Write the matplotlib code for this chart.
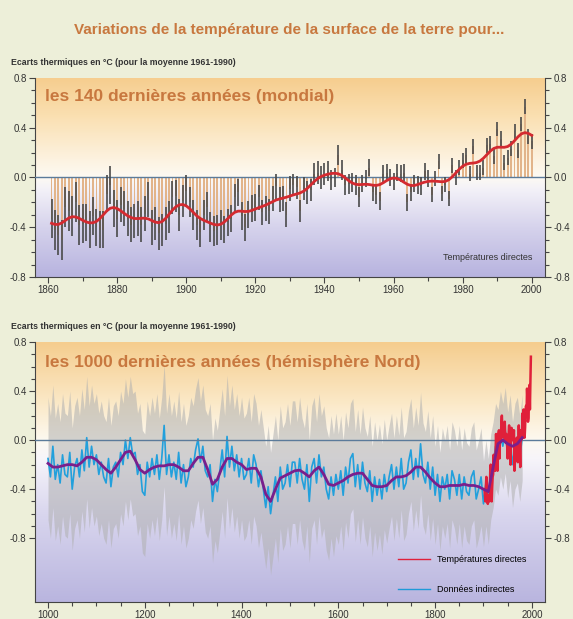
import numpy as np
import matplotlib
matplotlib.use("Agg")
import matplotlib.pyplot as plt
from matplotlib.colors import LinearSegmentedColormap
from matplotlib.lines import Line2D

plt.rcParams['font.family'] = ['Liberation Sans', 'DejaVu Sans']

# --- data: global annual anomalies 1861-2000 (°C, vs 1961-1990)
years_glob = np.arange(1861, 2001)
temp_glob = [
    -0.33, -0.42, -0.46, -0.50, -0.24, -0.27, -0.31, -0.20, -0.38, -0.37,
    -0.36, -0.42, -0.31, -0.40, -0.42, -0.42, -0.13, -0.06, -0.25, -0.33,
    -0.22, -0.25, -0.33, -0.38, -0.35, -0.33, -0.38, -0.29, -0.18, -0.40,
    -0.37, -0.45, -0.42, -0.37, -0.32, -0.16, -0.15, -0.30, -0.19, -0.11,
    -0.20, -0.30, -0.38, -0.44, -0.30, -0.24, -0.40, -0.43, -0.42, -0.38,
    -0.42, -0.36, -0.33, -0.16, -0.12, -0.31, -0.40, -0.30, -0.25, -0.24,
    -0.16, -0.28, -0.25, -0.27, -0.17, -0.07, -0.18, -0.17, -0.30, -0.09,
    -0.06, -0.08, -0.27, -0.09, -0.12, -0.10, 0.03, 0.04, 0.00, 0.03,
    0.05, -0.02, 0.00, 0.18, 0.06, -0.06, -0.05, -0.04, -0.06, -0.16,
    -0.05, -0.01, 0.08, -0.12, -0.14, -0.19, 0.03, 0.04, 0.00, -0.03,
    0.04, 0.03, 0.04, -0.20, -0.12, -0.05, -0.06, -0.07, 0.05, -0.01,
    -0.14, -0.01, 0.13, -0.13, -0.06, -0.17, 0.10, 0.00, 0.08, 0.14,
    0.18, 0.03, 0.25, 0.04, 0.04, 0.08, 0.26, 0.27, 0.17, 0.39,
    0.31, 0.12, 0.16, 0.23, 0.37, 0.22, 0.43, 0.57, 0.33, 0.29,
]
# error half-width per decade (1861-1870 ... 1991-2000)
err_decade = [0.16, 0.15, 0.14, 0.13, 0.12, 0.11, 0.10, 0.09, 0.08, 0.07, 0.07, 0.06, 0.06, 0.06]

# --- data: northern hemisphere reconstruction, 5-year steps 1000-1980
years_nh = np.arange(1000, 1981, 5)
proxy_nh = [
    -0.15, -0.30, -0.05, -0.32, -0.20, -0.35, -0.12, -0.28, -0.30, -0.10,
    -0.40, -0.22, -0.15, -0.30, -0.08, -0.25, 0.02, -0.22, -0.05, -0.20,
    -0.12, -0.28, -0.18, -0.30, -0.35, -0.15, -0.38, -0.22, -0.18, -0.30,
    -0.10, -0.20, 0.00, -0.15, 0.02, -0.12, -0.10, -0.28, -0.20, -0.42,
    -0.45, -0.18, -0.30, -0.15, -0.28, -0.12, -0.32, -0.15, 0.12, -0.28,
    -0.12, -0.30, -0.18, -0.32, -0.10, -0.35, -0.20, -0.38, -0.30, -0.15,
    -0.22, -0.08, 0.01, -0.18, -0.05, -0.25, -0.30, -0.20, -0.50, -0.32,
    -0.42, -0.25, -0.08, -0.30, 0.03, -0.22, -0.05, -0.25, -0.12, -0.30,
    -0.15, -0.32, -0.28, -0.15, -0.35, -0.12, -0.20, -0.38, -0.25, -0.40,
    -0.55, -0.38, -0.60, -0.45, -0.30, -0.50, -0.22, -0.40, -0.35, -0.20,
    -0.38, -0.18, -0.18, -0.35, -0.15, -0.32, -0.40, -0.20, -0.50, -0.22,
    -0.15, -0.35, -0.12, -0.30, -0.22, -0.40, -0.48, -0.30, -0.45, -0.28,
    -0.40, -0.25, -0.45, -0.22, -0.35, -0.15, -0.11, -0.38, -0.20, -0.40,
    -0.18, -0.35, -0.42, -0.25, -0.50, -0.30, -0.45, -0.32, -0.48, -0.28,
    -0.42, -0.30, -0.20, -0.40, -0.22, -0.38, -0.15, -0.40, -0.35, -0.18,
    -0.08, -0.32, -0.15, -0.30, -0.03, -0.28, -0.35, -0.18, -0.40, -0.22,
    -0.45, -0.28, -0.50, -0.30, -0.40, -0.28, -0.48, -0.25, -0.32, -0.45,
    -0.28, -0.48, -0.30, -0.42, -0.45, -0.30, -0.25, -0.48, -0.40, -0.30,
    -0.52, -0.35, -0.50, -0.30, -0.20, -0.05, -0.10, 0.05, -0.05, 0.08,
    -0.12, 0.02, -0.20, -0.05, 0.00, -0.15, 0.02,
]
# 2-sigma half-width per century 1000s ... 1900s
sigma_century = [0.50, 0.50, 0.50, 0.50, 0.50, 0.50, 0.45, 0.42, 0.40, 0.35]

# 40-year smoothed curve, 10-year steps 1000-1980
years_smooth = np.arange(1000, 1981, 10)
smooth_nh = [
    -0.19, -0.22, -0.22, -0.21, -0.20, -0.20, -0.21, -0.18, -0.14, -0.14,
    -0.16, -0.20, -0.24, -0.27, -0.22, -0.16, -0.10, -0.09, -0.16, -0.24,
    -0.27, -0.24, -0.22, -0.21, -0.21, -0.20, -0.20, -0.22, -0.25, -0.25,
    -0.19, -0.14, -0.14, -0.24, -0.36, -0.32, -0.22, -0.15, -0.15, -0.18,
    -0.20, -0.24, -0.23, -0.23, -0.30, -0.44, -0.50, -0.40, -0.31, -0.29,
    -0.27, -0.25, -0.245, -0.27, -0.30, -0.25, -0.22, -0.28, -0.36, -0.37,
    -0.35, -0.33, -0.30, -0.28, -0.27, -0.27, -0.32, -0.37, -0.38, -0.38,
    -0.37, -0.33, -0.30, -0.30, -0.29, -0.26, -0.22, -0.22, -0.26, -0.31,
    -0.35, -0.38, -0.38, -0.37, -0.37, -0.37, -0.36, -0.37, -0.37, -0.38,
    -0.40, -0.42, -0.22, -0.03, 0.00, -0.03, -0.05, -0.03, 0.02,
]

# instrumental northern hemisphere 1902-1998
instr_nh = [
    -0.40, -0.45, -0.50, -0.38, -0.30, -0.50, -0.48, -0.52, -0.45, -0.48,
    -0.50, -0.45, -0.25, -0.20, -0.38, -0.50, -0.38, -0.30, -0.28, -0.12,
    -0.25, -0.18, -0.25, -0.10, 0.05, -0.08, -0.05, -0.25, 0.02, 0.05,
    0.08, -0.15, 0.05, -0.02, 0.00, 0.15, 0.20, 0.10, 0.05, 0.02,
    0.05, 0.10, 0.15, 0.05, -0.02, 0.05, 0.00, -0.05, -0.15, 0.02,
    0.05, 0.12, -0.08, -0.12, -0.20, 0.05, 0.10, 0.05, 0.00, 0.08,
    0.05, 0.08, -0.25, -0.18, -0.08, -0.05, -0.12, 0.02, -0.05, -0.18,
    -0.12, 0.12, -0.15, -0.05, -0.22, 0.08, 0.00, 0.05, 0.10, 0.22,
    0.02, 0.25, 0.05, 0.02, 0.10, 0.22, 0.28, 0.20, 0.42, 0.32,
    0.15, 0.18, 0.30, 0.45, 0.25, 0.48, 0.68,
]
years_instr = np.arange(1902, 1902 + len(instr_nh))

bg = '#edefd9'
title_col = '#c8783f'
fig = plt.figure(figsize=(5.73, 6.19), dpi=100, facecolor=bg)


def gradient(ax, stops, xlim, ylim):
    lo, hi = ylim
    cmap = LinearSegmentedColormap.from_list(
        'g', [((v - lo) / (hi - lo), c) for v, c in stops])
    grad = np.linspace(0, 1, 256).reshape(-1, 1)
    ax.imshow(grad, cmap=cmap, aspect='auto', origin='lower',
              extent=[xlim[0], xlim[1], lo, hi], zorder=0)


def style(ax, xlim, ylim, xmaj, xmin):
    ax.set_xlim(xlim)
    ax.set_ylim(ylim)
    ax.set_facecolor('white')
    ax.spines['top'].set_visible(False)
    for s in ['left', 'right', 'bottom']:
        ax.spines[s].set_color('#444444')
        ax.spines[s].set_linewidth(0.8)
    ax.set_yticks([-0.8, -0.4, 0.0, 0.4, 0.8])
    ax.set_yticklabels(['-0.8', '-0.4', '0.0', '0.4', '0.8'])
    ax.set_yticks(np.arange(-0.8, 0.81, 0.1), minor=True)
    ax.set_xticks(xmaj)
    ax.set_xticks(xmin, minor=True)
    ax.tick_params(axis='both', which='major', labelsize=7, length=4, width=0.8,
                   color='#444444', labelcolor='#333333', pad=2)
    ax.tick_params(axis='both', which='minor', length=3, width=0.8, color='#444444')
    ax.tick_params(axis='y', which='both', left=True, right=True, labelright=True)
    ax.axhline(0, color='#5b7b9a', lw=1, zorder=3)


fig.text(0.505, 0.952, 'Variations de la température de la surface de la terre pour...',
         ha='center', va='center', fontsize=11, fontweight='bold', color=title_col)

# --- top panel
ax1 = fig.add_axes([0.061, 0.5525, 0.890, 0.3215])
xl1 = (1856.2, 2003.8)
yl1 = (-0.8, 0.8)
gradient(ax1, [(-0.8, '#b7b3df'), (-0.4, '#d6d3ec'), (-0.1, '#f3f1f8'), (0.0, '#fdfaf3'),
               (0.2, '#fcefd8'), (0.5, '#fadfb0'), (0.8, '#f6cd8e')], xl1, yl1)
style(ax1, xl1, yl1, np.arange(1860, 2001, 20), np.arange(1860, 2001, 10))

t = np.array(temp_glob)
err = np.repeat(err_decade, 10)
ax1.bar(years_glob, t, width=0.55, color='#e2b48a', zorder=2)
ax1.vlines(years_glob, t - err, t + err, color='#4a4a4a', lw=1.2, zorder=4)
# 21-point binomial filter
w = np.array([1.0])
for _ in range(20):
    w = np.convolve(w, [0.5, 0.5])
tp = np.pad(t, 10, mode='edge')
smooth_glob = np.convolve(tp, w, mode='valid')
ax1.plot(years_glob, smooth_glob, color='#d42a30', lw=2, zorder=5)
ax1.text(0.02, 0.905, 'les 140 dernières années (mondial)', transform=ax1.transAxes,
         fontsize=12.5, fontweight='bold', color=title_col, va='center')
ax1.text(0.975, 0.1, 'Températures directes', transform=ax1.transAxes,
         fontsize=6.5, color='#333333', ha='right', va='center')
fig.text(0.02, 0.899, 'Ecarts thermiques en °C (pour la moyenne 1961-1990)',
         fontsize=6.3, fontweight='bold', color='#333333', va='center')

# --- bottom panel
ax2 = fig.add_axes([0.061, 0.0275, 0.890, 0.420])
xl2 = (973, 2027)
yl2 = (-1.32, 0.8)
gradient(ax2, [(-1.32, '#b9b5df'), (-0.6, '#d9d6ee'), (-0.15, '#f7f5fa'), (0.0, '#fdf9f0'),
               (0.3, '#fbe9c8'), (0.8, '#f5cd8e')], xl2, yl2)
style(ax2, xl2, yl2, np.arange(1000, 2001, 200), np.arange(1000, 2001, 50))

p = np.array(proxy_nh)
sig = np.repeat(sigma_century, [20] * 9 + [len(p) - 180])
ax2.fill_between(years_nh, p - sig, p + sig, color='#b0b0b0',
                 alpha=0.55, lw=0, zorder=1)
ax2.plot(years_nh, p, color='#22a0dc', lw=1.2, zorder=2)
ax2.plot(years_instr, instr_nh, color='#e0203a', lw=1.8, zorder=4)
ax2.plot(years_smooth, smooth_nh, color='#7a1f8c', lw=2, zorder=5)
ax2.text(0.02, 0.92, 'les 1000 dernières années (hémisphère Nord)', transform=ax2.transAxes,
         fontsize=12.5, fontweight='bold', color=title_col, va='center')
fig.text(0.02, 0.473, 'Ecarts thermiques en °C (pour la moyenne 1961-1990)',
         fontsize=6.3, fontweight='bold', color='#333333', va='center')
handles = [Line2D([], [], color='#e0203a', lw=1), Line2D([], [], color='#1f9ad8', lw=1)]
ax2.legend(handles, ['Températures directes', 'Données indirectes'], loc='lower right',
           frameon=False, fontsize=6.5, handlelength=3.5, labelspacing=2.3,
           bbox_to_anchor=(0.98, 0.0))

fig.savefig('out.png', dpi=100, facecolor=bg)
